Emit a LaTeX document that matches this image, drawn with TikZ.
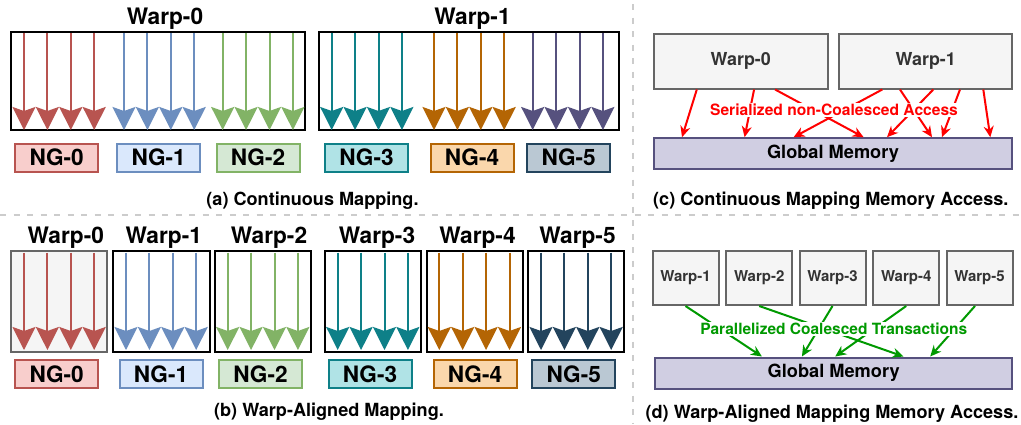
\documentclass[tikz,border=0pt]{standalone}
\usepackage{fontspec}
\setmainfont{TeX Gyre Heros}
\usepackage{xcolor}
\usetikzlibrary{arrows.meta, positioning}
\definecolor{ngred}{HTML}{B85450}
\definecolor{ngredfill}{HTML}{F8CECC}
\definecolor{ngblue}{HTML}{6C8EBF}
\definecolor{ngbluefill}{HTML}{DAE8FC}
\definecolor{nggreen}{HTML}{82B366}
\definecolor{nggreenfill}{HTML}{D5E8D4}
\definecolor{ngteal}{HTML}{0E8088}
\definecolor{ngtealfill}{HTML}{B0E3E6}
\definecolor{ngorange}{HTML}{B46504}
\definecolor{ngorangefill}{HTML}{FAD7AC}
\definecolor{ngpurple}{HTML}{56517E}
\definecolor{ngslate}{HTML}{23445D}
\definecolor{ngslatefill}{HTML}{BAC8D3}
\definecolor{memfill}{HTML}{D0CEE2}
\definecolor{warpdraw}{HTML}{666666}
\definecolor{warpfill}{HTML}{F5F5F5}
\definecolor{warptext}{HTML}{333333}
\definecolor{sepgray}{HTML}{CCCCCC}
\definecolor{accred}{HTML}{FF0000}
\definecolor{accgreen}{HTML}{009900}
\tikzset{
    threadbox/.style={rectangle, draw=black, line width=2pt, fill=white, inner sep=0pt},
    graybox/.style={rectangle, draw=warpdraw, line width=2pt, fill=warpfill, inner sep=0pt},
    ngbox/.style={rectangle, draw, line width=2pt, minimum width=83pt, minimum height=28pt, inner sep=0pt, font=\fontsize{22.6}{26}\selectfont\bfseries},
    warptitle/.style={anchor=base, font=\fontsize{22.7}{26}\selectfont\bfseries},
    subcap/.style={anchor=base, font=\fontsize{18.1}{22}\selectfont\bfseries},
    lane/.style={line width=2pt, -{Stealth[length=23pt, width=23pt, inset=4pt]}},
    membox/.style={rectangle, draw=warpdraw, fill=warpfill, line width=2pt, text=warptext, inner sep=0pt},
    gmem/.style={rectangle, draw=ngpurple, fill=memfill, line width=2pt, minimum height=31pt, inner sep=0pt, font=\fontsize{18.2}{22}\selectfont\bfseries},
    access/.style={line width=2pt, -{Stealth[length=11pt, width=10pt]}},
    sepline/.style={draw=sepgray, line width=2pt, dash pattern=on 6pt off 7.5pt}
}
\begin{document}
\begin{tikzpicture}[x=1pt, y=-1pt]
    \useasboundingbox (0,0) rectangle (1021,424);
    % panel separators
    \draw [sepline] (0,214.5) -- (1021,214.5);
    \draw [sepline] (633,4) -- (633,424);

    % (a) continuous mapping
    \node (warpA0) [threadbox, minimum width=294pt, minimum height=98pt] at (158,81) {};
    \node (warpA1) [threadbox, minimum width=300pt, minimum height=98pt] at (469,81) {};
    \node (titleA0) [warptitle] at (165,24) {Warp-0};
    \node (titleA1) [warptitle] at (472.5,24) {Warp-1};
    \foreach \x/\c in {24/ngred, 124/ngblue, 222.7/nggreen, 331.7/ngteal, 434/ngorange, 532.7/ngpurple}
        \foreach \i in {0,...,3}
            \draw [lane, \c] ({\x+\i*23.4},33) -- ({\x+\i*23.4},130);
    \node (ngA0) [ngbox, draw=ngred, fill=ngredfill] at (56.7,157.7) {NG-0};
    \node (ngA1) [ngbox, draw=ngblue, fill=ngbluefill] at (158.7,157.7) {NG-1};
    \node (ngA2) [ngbox, draw=nggreen, fill=nggreenfill] at (258,157.7) {NG-2};
    \node (ngA3) [ngbox, draw=ngteal, fill=ngtealfill] at (366.5,157.7) {NG-3};
    \node (ngA4) [ngbox, draw=ngorange, fill=ngorangefill] at (472,157.7) {NG-4};
    \node (ngA5) [ngbox, draw=ngslate, fill=ngslatefill] at (568.7,157.7) {NG-5};
    \node (capA) [subcap] at (312.5,205) {(a) Continuous Mapping.};

    % (b) warp-aligned mapping
    \node (warpB0) [graybox, minimum width=96pt, minimum height=101pt] at (59.2,301.3) {};
    \node (warpB1) [threadbox, minimum width=97pt, minimum height=101pt] at (161.2,301.3) {};
    \node (warpB2) [threadbox, minimum width=96pt, minimum height=101pt] at (262.5,301.3) {};
    \node (warpB3) [threadbox, minimum width=96pt, minimum height=101pt] at (372.8,301.3) {};
    \node (warpB4) [threadbox, minimum width=96pt, minimum height=101pt] at (474.5,301.3) {};
    \node (warpB5) [threadbox, minimum width=96pt, minimum height=101pt] at (576.2,301.3) {};
    \node (titleB0) [warptitle] at (65.8,243.3) {Warp-0};
    \node (titleB1) [warptitle] at (163.8,243.3) {Warp-1};
    \node (titleB2) [warptitle] at (269,243.3) {Warp-2};
    \node (titleB3) [warptitle] at (377,243.3) {Warp-3};
    \node (titleB4) [warptitle] at (477.5,243.3) {Warp-4};
    \node (titleB5) [warptitle] at (577.5,243.3) {Warp-5};
    \foreach \x/\c in {24/ngred, 126/ngblue, 227.7/nggreen, 337.7/ngteal, 439.3/ngorange, 541/ngslate}
        \foreach \i in {0,...,3}
            \draw [lane, \c] ({\x+\i*23.4},252.7) -- ({\x+\i*23.4},350);
    \node (ngB0) [ngbox, draw=ngred, fill=ngredfill] at (56.7,374.3) {NG-0};
    \node (ngB1) [ngbox, draw=ngblue, fill=ngbluefill] at (161,374.3) {NG-1};
    \node (ngB2) [ngbox, draw=nggreen, fill=nggreenfill] at (260.5,374.3) {NG-2};
    \node (ngB3) [ngbox, draw=ngteal, fill=ngtealfill] at (370,374.3) {NG-3};
    \node (ngB4) [ngbox, draw=ngorange, fill=ngorangefill] at (475,374.3) {NG-4};
    \node (ngB5) [ngbox, draw=ngslate, fill=ngslatefill] at (573.8,374.3) {NG-5};
    \node (capB) [subcap] at (329,416.7) {(b) Warp-Aligned Mapping.};

    % (c) continuous mapping memory access
    \node (cwarp0) [membox, minimum width=174pt, minimum height=55pt, font=\fontsize{17.9}{22}\selectfont\bfseries] at (740.8,61) {Warp-0};
    \node (cwarp1) [membox, minimum width=173pt, minimum height=55pt, font=\fontsize{17.9}{22}\selectfont\bfseries] at (925.8,61) {Warp-1};
    \node (cmem) [gmem, minimum width=358pt] at (833,153.7) {Global Memory};
    \draw [access, accred] ([xshift=44pt]cwarp0.south west) -- ([xshift=29pt]cmem.north west);
    \draw [access, accred] ([xshift=101.3pt]cwarp0.south west) -- ([xshift=91.6pt]cmem.north west);
    \draw [access, accred] ([xshift=122.3pt]cwarp0.south west) -- ([xshift=210.6pt]cmem.north west);
    \draw [access, accred] ([xshift=44pt]cwarp1.south west) -- ([xshift=140.6pt]cmem.north west);
    \draw [access, accred] ([xshift=61.7pt]cwarp1.south west) -- ([xshift=279pt]cmem.north west);
    \draw [access, accred] ([xshift=95pt]cwarp1.south west) -- ([xshift=234pt]cmem.north west);
    \draw [access, accred] ([xshift=121.7pt]cwarp1.south west) -- ([xshift=289pt]cmem.north west);
    \draw [access, accred] ([xshift=145pt]cwarp1.south west) -- ([xshift=337.3pt]cmem.north west);
    \node (cnote) [fill=white, inner sep=1.5pt, text=accred, font=\fontsize{15.6}{18}\selectfont\bfseries] at (834,110) {Serialized non-Coalesced Access};
    \node (capC) [subcap] at (830.8,205) {(c) Continuous Mapping Memory Access.};

    % (d) warp-aligned mapping memory access
    \node (dwarp1) [membox, minimum width=66pt, minimum height=54pt, font=\fontsize{15}{18}\selectfont\bfseries] at (685.5,278) {Warp-1};
    \node (dwarp2) [membox, minimum width=66pt, minimum height=54pt, font=\fontsize{15}{18}\selectfont\bfseries] at (759.2,278) {Warp-2};
    \node (dwarp3) [membox, minimum width=66pt, minimum height=54pt, font=\fontsize{15}{18}\selectfont\bfseries] at (832.5,278) {Warp-3};
    \node (dwarp4) [membox, minimum width=66pt, minimum height=54pt, font=\fontsize{15}{18}\selectfont\bfseries] at (906.2,278) {Warp-4};
    \node (dwarp5) [membox, minimum width=66pt, minimum height=54pt, font=\fontsize{15}{18}\selectfont\bfseries] at (979.5,278) {Warp-5};
    \node (dmem) [gmem, minimum width=357pt] at (833.7,373) {Global Memory};
    \draw [access, accgreen] (dwarp1.south) -- ([xshift=107.7pt]dmem.north west);
    \draw [access, accgreen] (dwarp2.south) -- ([xshift=249.3pt]dmem.north west);
    \draw [access, accgreen] (dwarp3.south) -- ([xshift=147.7pt]dmem.north west);
    \draw [access, accgreen] (dwarp4.south) -- ([xshift=181pt]dmem.north west);
    \draw [access, accgreen] ([xshift=-4.5pt]dwarp5.south) -- ([xshift=276pt]dmem.north west);
    \node (dnote) [fill=white, inner sep=1.5pt, text=accgreen, font=\fontsize{15.5}{18}\selectfont\bfseries] at (833.8,329) {Parallelized Coalesced Transactions};
    \node (capD) [subcap] at (832,418) {(d) Warp-Aligned Mapping Memory Access.};
\end{tikzpicture}
\end{document}
